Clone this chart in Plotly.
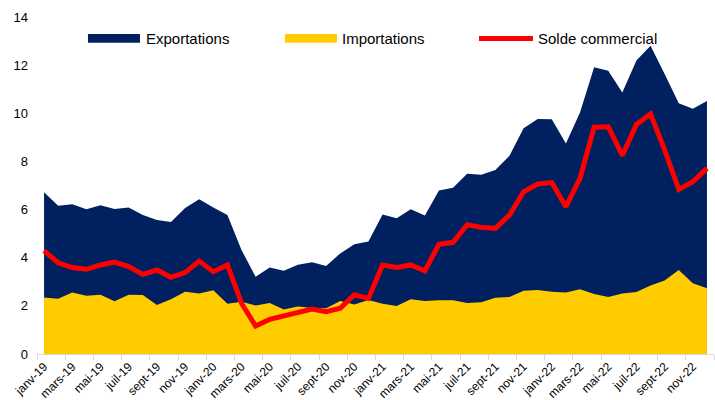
import plotly.graph_objects as go

months = ["janv", "févr", "mars", "avr", "mai", "juin", "juil", "août", "sept", "oct", "nov", "déc"]
years = ["19", "20", "21", "22"]
categories = [f"{m}-{y}" for y in years for m in months]

exportations = [6.72, 6.16, 6.22, 6.01, 6.18, 6.02, 6.09, 5.77, 5.57, 5.48, 6.07, 6.43,
                6.09, 5.77, 4.32, 3.21, 3.59, 3.46, 3.71, 3.81, 3.66, 4.18, 4.56, 4.67,
                5.80, 5.64, 6.01, 5.75, 6.79, 6.91, 7.49, 7.45, 7.64, 8.24, 9.38, 9.76,
                9.75, 8.75, 10.03, 11.91, 11.77, 10.86, 12.19, 12.81, 11.63, 10.42, 10.19, 10.51]

importations = [2.35, 2.30, 2.56, 2.42, 2.46, 2.19, 2.46, 2.45, 2.04, 2.27, 2.59, 2.51,
                2.65, 2.09, 2.17, 2.02, 2.12, 1.85, 1.97, 1.91, 1.90, 2.20, 2.06, 2.24,
                2.09, 1.99, 2.27, 2.20, 2.23, 2.23, 2.12, 2.15, 2.34, 2.37, 2.63, 2.66,
                2.59, 2.55, 2.69, 2.49, 2.37, 2.51, 2.58, 2.85, 3.05, 3.49, 2.94, 2.73]

solde = [4.29, 3.79, 3.59, 3.52, 3.70, 3.82, 3.63, 3.31, 3.49, 3.19, 3.38, 3.86,
         3.42, 3.70, 2.11, 1.16, 1.44, 1.58, 1.69, 1.87, 1.76, 1.90, 2.46, 2.31,
         3.70, 3.60, 3.70, 3.46, 4.56, 4.64, 5.37, 5.26, 5.22, 5.77, 6.74, 7.06,
         7.12, 6.12, 7.30, 9.42, 9.44, 8.25, 9.54, 9.97, 8.48, 6.84, 7.16, 7.71]

NAVY = "#002060"
YELLOW = "#FFCC00"
RED = "#FF0000"

fig = go.Figure()
fig.add_trace(go.Scatter(x=categories, y=exportations, name="Exportations",
                         mode="lines", line=dict(width=0, color=NAVY),
                         fill="tozeroy", fillcolor=NAVY, showlegend=False))
fig.add_trace(go.Scatter(x=categories, y=importations, name="Importations",
                         mode="lines", line=dict(width=0, color=YELLOW),
                         fill="tozeroy", fillcolor=YELLOW, showlegend=False))
fig.add_trace(go.Scatter(x=categories, y=solde, name="Solde commercial",
                         mode="lines", line=dict(width=5, color=RED),
                         showlegend=False))

# Custom legend (shapes + text)
leg_y = 0.936
shapes = [
    dict(type="rect", xref="paper", yref="paper", x0=0.0753, x1=0.1521, y0=0.9237, y1=0.9496,
         fillcolor=NAVY, line=dict(width=0)),
    dict(type="rect", xref="paper", yref="paper", x0=0.3663, x1=0.4431, y0=0.9237, y1=0.9496,
         fillcolor=YELLOW, line=dict(width=0)),
    dict(type="line", xref="paper", yref="paper", x0=0.6529, x1=0.7326, y0=leg_y, y1=leg_y,
         line=dict(width=5, color=RED)),
]
annotations = [
    dict(text="Exportations", xref="paper", yref="paper", x=0.158, y=leg_y,
         xanchor="left", yanchor="middle", showarrow=False,
         font=dict(size=15, color="#000000")),
    dict(text="Importations", xref="paper", yref="paper", x=0.447, y=leg_y,
         xanchor="left", yanchor="middle", showarrow=False,
         font=dict(size=15, color="#000000")),
    dict(text="Solde commercial", xref="paper", yref="paper", x=0.737, y=leg_y,
         xanchor="left", yanchor="middle", showarrow=False,
         font=dict(size=15, color="#000000")),
]

fig.update_layout(
    width=715, height=400,
    margin=dict(l=37, r=1, t=17, b=46),
    paper_bgcolor="white", plot_bgcolor="white",
    font=dict(family="Liberation Sans, Arial, sans-serif", color="#000000"),
    shapes=shapes, annotations=annotations,
    showlegend=False,
)
fig.update_xaxes(
    type="category", range=[-0.5, 47.5], dtick=2, tickangle=-45,
    tickson="boundaries", ticks="outside", ticklen=5, tickcolor="#D9D9D9",
    showline=True, linecolor="#D9D9D9", linewidth=1, showgrid=False,
    tickfont=dict(size=12, color="#000000"), automargin=False,
)
fig.update_yaxes(
    range=[0, 14], dtick=2, showgrid=False, zeroline=False, showline=False,
    ticks="", ticklabelstandoff=8, tickfont=dict(size=13, color="#000000"),
    automargin=False,
)

fig.write_html("out.html", config={"displayModeBar": False},
               post_script="document.body.style.margin='0';document.body.style.overflow='hidden';")
